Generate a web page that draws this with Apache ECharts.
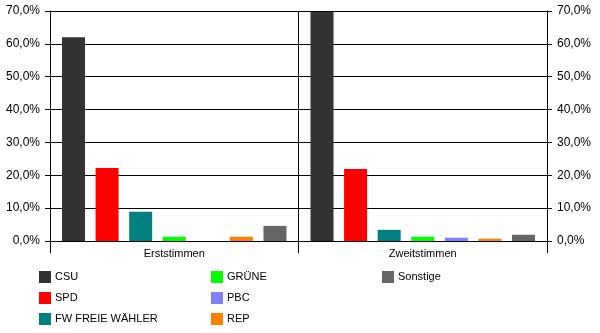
<!DOCTYPE html>
<html>
<head>
<meta charset="utf-8">
<script src="https://cdn.jsdelivr.net/npm/echarts@6/dist/echarts.min.js"></script>
<style>
  html, body { margin: 0; padding: 0; background: #fff; }
  #chart { width: 600px; height: 333px; }
</style>
</head>
<body>
<div id="chart"></div>
<script>
// Stimmenanteile je Partei (in %)
const categories = ['Erststimmen', 'Zweitstimmen'];
const parties = ['CSU', 'SPD', 'FW FREIE WÄHLER', 'GRÜNE', 'PBC', 'REP', 'Sonstige'];
const csu = [62.0, 69.7];
const spd = [22.2, 21.9];
const fw = [8.9, 3.4];
const gruene = [1.3, 1.3];
const pbc = [0, 1.0];
const rep = [1.3, 0.7];
const sonstige = [4.6, 1.9];
const yTicks = [0, 10, 20, 30, 40, 50, 60, 70];

const values = [csu, spd, fw, gruene, pbc, rep, sonstige];
const colors = ['#333333', '#ff0000', '#008080', '#00ff00', '#8080ff', '#ff8000', '#666666'];

const font = 'Arial, "Liberation Sans", sans-serif';
const fmt = v => v.toFixed(1).replace('.', ',') + '%';

const chart = echarts.init(document.getElementById('chart'));

const yAxisBase = {
  type: 'value',
  min: yTicks[0],
  max: yTicks[yTicks.length - 1],
  interval: 10,
  axisLine: { show: true, lineStyle: { color: '#000', width: 1 } },
  axisTick: { show: true, length: 5, lineStyle: { color: '#000' } },
  axisLabel: { formatter: fmt, color: '#000', fontFamily: font, fontSize: 12, margin: 10 },
};

function legendFor(names, left) {
  return {
    orient: 'vertical',
    left: left,
    top: 266,
    itemWidth: 12,
    itemHeight: 12,
    itemGap: 9,
    icon: 'rect',
    data: names,
    textStyle: { color: '#000', fontFamily: font, fontSize: 11, padding: [0, 0, 0, -1] },
    selectedMode: false,
  };
}

chart.setOption({
  animation: false,
  backgroundColor: '#fff',
  color: colors,
  grid: { left: 50, right: 53, top: 11, bottom: 92, containLabel: false },
  legend: [
    legendFor(parties.slice(0, 3), 34),
    legendFor(parties.slice(3, 6), 206),
    legendFor(parties.slice(6), 377),
  ],
  xAxis: {
    type: 'category',
    data: categories,
    axisLine: { show: true, lineStyle: { color: '#000', width: 1 } },
    axisTick: { show: true, length: 12, lineStyle: { color: '#000' } },
    axisLabel: { color: '#000', fontFamily: font, fontSize: 11, margin: 7 },
    splitLine: { show: true, lineStyle: { color: '#000', width: 1 } },
  },
  yAxis: [
    Object.assign({}, yAxisBase, {
      position: 'left',
      splitLine: { show: true, lineStyle: { color: '#000', width: 1 } },
    }),
    Object.assign({}, yAxisBase, {
      position: 'right',
      splitLine: { show: false },
    }),
  ],
  series: parties.map((name, i) => ({
    name: name,
    type: 'bar',
    data: values[i],
    barWidth: 23,
    barGap: '46%',
    itemStyle: { color: colors[i] },
  })),
});
</script>
</body>
</html>
